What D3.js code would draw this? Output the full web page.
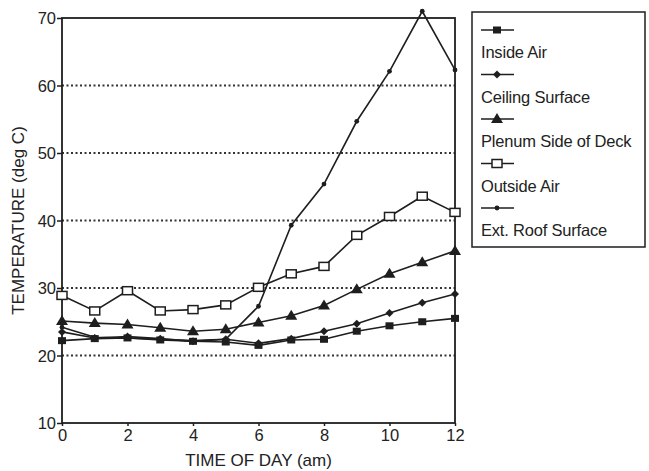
<!DOCTYPE html>
<html>
<head>
<meta charset="utf-8">
<script src="https://cdn.jsdelivr.net/npm/d3@7"></script>
<style>
  body { margin: 0; background: #fff; }
  text { font-family: Arial, "Liberation Sans", sans-serif; fill: #222; }
</style>
</head>
<body>
<div id="chart"></div>
<script>
// Data (hours 0..12 am, deg C).
const hours = [0, 1, 2, 3, 4, 5, 6, 7, 8, 9, 10, 11, 12];
const insideAir = [22.2, 22.5, 22.6, 22.3, 22.1, 22.0, 21.5, 22.3, 22.4, 23.6, 24.4, 25.0, 25.5];
const ceilingSurface = [23.5, 22.6, 22.8, 22.5, 22.1, 22.4, 21.8, 22.5, 23.6, 24.7, 26.3, 27.8, 29.1];
const plenumDeck = [25.1, 24.8, 24.6, 24.1, 23.6, 23.9, 24.9, 25.9, 27.4, 29.8, 32.1, 33.8, 35.5];
const outsideAir = [28.9, 26.6, 29.6, 26.6, 26.8, 27.5, 30.1, 32.1, 33.2, 37.8, 40.6, 43.6, 41.2];
const extRoof = [24.2, 22.7, 22.6, 22.4, 22.2, 22.4, 27.3, 39.3, 45.4, 54.7, 62.1, 71.0, 62.3];

const seriesNames = ["Inside Air", "Ceiling Surface", "Plenum Side of Deck", "Outside Air", "Ext. Roof Surface"];
const seriesValues = [insideAir, ceilingSurface, plenumDeck, outsideAir, extRoof];
const markerKinds = ["fsquare", "diamond", "triangle", "osquare", "dot"];

const xTicks = [0, 2, 4, 6, 8, 10, 12];
const yTicks = [10, 20, 30, 40, 50, 60, 70];
const gridValues = [20, 30, 40, 50, 60];

const width = 649, height = 471;
const margin = { left: 62, right: 194, top: 18, bottom: 48 };
const ink = "#1e1e1e";

const svg = d3.select("#chart").append("svg")
    .attr("width", width)
    .attr("height", height);

const x = d3.scaleLinear().domain([0, 12]).range([margin.left, width - margin.right]);
const y = d3.scaleLinear().domain([10, 70]).range([height - margin.bottom, margin.top]);

// Dotted grid lines.
svg.append("g")
    .selectAll("line")
    .data(gridValues)
    .join("line")
        .attr("x1", x(0))
        .attr("x2", x(12))
        .attr("y1", d => y(d))
        .attr("y2", d => y(d))
        .attr("stroke", "#333")
        .attr("stroke-width", 1.8)
        .attr("stroke-dasharray", "2,2.5");

// Plot frame.
svg.append("rect")
    .attr("x", x(0))
    .attr("y", y(70))
    .attr("width", x(12) - x(0))
    .attr("height", y(10) - y(70))
    .attr("fill", "none")
    .attr("stroke", ink)
    .attr("stroke-width", 1.8);

// Axes.
const yAxis = svg.append("g")
    .attr("transform", `translate(${x(0)},0)`)
    .call(d3.axisLeft(y).tickValues(yTicks).tickSize(5).tickPadding(1).tickFormat(d3.format("d")));
const xAxis = svg.append("g")
    .attr("transform", `translate(0,${y(10)})`)
    .call(d3.axisBottom(x).tickValues(xTicks).tickSize(3).tickPadding(3).tickFormat(d3.format("d")));
[xAxis, yAxis].forEach(a => {
    a.select(".domain").remove();
    a.selectAll(".tick line").attr("stroke", ink).attr("stroke-width", 1.5);
    a.selectAll(".tick text")
        .attr("font-size", 16.5)
        .attr("font-family", "Arial, 'Liberation Sans', sans-serif")
        .attr("fill", ink);
});
yAxis.selectAll(".tick text").attr("dy", "0.35em");

// Axis titles.
svg.append("text")
    .attr("x", (x(0) + x(12)) / 2)
    .attr("y", 466)
    .attr("text-anchor", "middle")
    .attr("font-size", 17)
    .text("TIME OF DAY (am)");
svg.append("text")
    .attr("transform", `translate(24,${(y(10) + y(70)) / 2}) rotate(-90)`)
    .attr("text-anchor", "middle")
    .attr("font-size", 17)
    .text("TEMPERATURE (deg C)");

// Marker drawing.
function drawMarker(g, kind) {
    if (kind === "fsquare") {
        g.append("rect").attr("x", -4).attr("y", -3.5).attr("width", 8).attr("height", 7).attr("fill", ink);
    } else if (kind === "diamond") {
        g.append("path").attr("d", "M0,-4L4,0L0,4L-4,0Z").attr("fill", ink);
    } else if (kind === "triangle") {
        g.append("path").attr("d", "M0,-6L6,4L-6,4Z").attr("fill", ink);
    } else if (kind === "osquare") {
        g.append("rect").attr("x", -5).attr("y", -4).attr("width", 10).attr("height", 8)
            .attr("fill", "#fff").attr("stroke", ink).attr("stroke-width", 1.5);
    } else {
        g.append("circle").attr("r", 2.4).attr("fill", ink);
    }
}

const line = d3.line().x((d, i) => x(hours[i])).y(d => y(d));

// Series lines and markers.
seriesValues.forEach((vals, s) => {
    svg.append("path")
        .attr("d", line(vals))
        .attr("fill", "none")
        .attr("stroke", ink)
        .attr("stroke-width", 1.6);
    svg.append("g")
        .selectAll("g")
        .data(vals)
        .join("g")
            .attr("transform", (d, i) => `translate(${x(hours[i])},${y(d)})`)
            .each(function () { drawMarker(d3.select(this), markerKinds[s]); });
});

// Legend.
const legend = svg.append("g");
legend.append("rect")
    .attr("x", 472)
    .attr("y", 12)
    .attr("width", 173)
    .attr("height", 235)
    .attr("fill", "#fff")
    .attr("stroke", ink)
    .attr("stroke-width", 1.5);
const entryStep = 44.5;
seriesNames.forEach((name, s) => {
    const ly = 30 + s * entryStep;
    legend.append("line")
        .attr("x1", 481).attr("x2", 514)
        .attr("y1", ly).attr("y2", ly)
        .attr("stroke", ink).attr("stroke-width", 1.5);
    drawMarker(legend.append("g").attr("transform", `translate(497,${ly})`), markerKinds[s]);
    legend.append("text")
        .attr("x", 481)
        .attr("y", ly + 28)
        .attr("font-size", 16.5)
        .attr("letter-spacing", "-0.2")
        .text(name);
});
</script>
</body>
</html>
